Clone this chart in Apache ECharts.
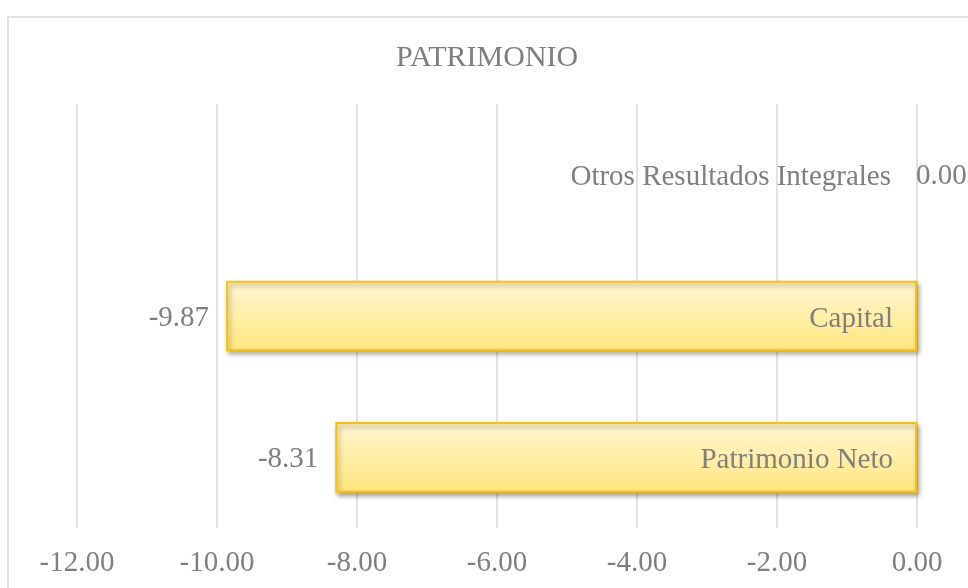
<!DOCTYPE html>
<html>
<head>
<meta charset="utf-8">
<script src="https://cdn.jsdelivr.net/npm/echarts@6/dist/echarts.min.js"></script>
<style>
  html, body { margin: 0; padding: 0; background: #fff; }
  #chart { width: 968px; height: 588px; }
</style>
</head>
<body>
<div id="chart"></div>
<script>
// categories from bottom to top
const categories = ['Patrimonio Neto', 'Capital', 'Otros Resultados Integrales'];
const values = [-8.31, -9.87, 0.00];
const axisMin = -12;
const axisMax = 0;
const axisStep = 2;

const font = 'Liberation Serif';
const grey = '#7f7f7f';

let chart = echarts.init(document.getElementById('chart'), null, {renderer: 'canvas'});

const barFill = new echarts.graphic.LinearGradient(0, 0, 0, 1, [
    {offset: 0, color: '#FFF7D2'},
    {offset: 1, color: '#FFE67D'}
]);

// value labels: outside end for negative bars, to the right for zero
const valueData = values.map(v => ({
    value: v,
    itemStyle: v < 0 ? {} : {borderWidth: 0, shadowBlur: 0, shadowOffsetX: 0, shadowOffsetY: 0},
    label: v < 0
        ? {position: 'left', distance: 17}
        : {position: 'right', distance: -1}
}));

// category name labels: inside base, or to the left if the bar is empty
const nameData = values.map((v, i) => ({
    value: v,
    label: v < 0
        ? {position: 'insideRight', distance: 24, formatter: categories[i]}
        : {position: 'left', distance: 26, formatter: categories[i]}
}));

let option = {
    animation: false,
    textStyle: {fontFamily: font},
    title: {
        text: 'PATRIMONIO',
        left: 396,
        top: 43,
        padding: 0,
        textStyle: {fontFamily: font, fontSize: 30, fontWeight: 'normal', color: grey}
    },
    graphic: [{
        type: 'rect',
        z: -10,
        shape: {x: 8, y: 17, width: 1000, height: 1000},
        style: {fill: 'none', stroke: '#d9d9d9', lineWidth: 1.5}
    }],
    grid: {left: 77, right: 51, top: 104, bottom: 60},
    xAxis: {
        type: 'value',
        min: axisMin,
        max: axisMax,
        interval: axisStep,
        axisLine: {show: false},
        axisTick: {show: false},
        splitLine: {lineStyle: {color: '#d9d9d9', width: 1.5}},
        axisLabel: {
            margin: 21,
            fontFamily: font,
            fontSize: 29,
            color: grey,
            formatter: v => v.toFixed(2)
        }
    },
    yAxis: {
        type: 'category',
        data: categories,
        axisLine: {show: false},
        axisTick: {show: false},
        axisLabel: {show: false},
        splitLine: {show: false}
    },
    series: [
        {
            type: 'bar',
            barWidth: '50%',
            data: valueData,
            itemStyle: {
                color: barFill,
                borderColor: '#FFC000',
                borderWidth: 2,
                shadowColor: 'rgba(0,0,0,0.35)',
                shadowBlur: 5,
                shadowOffsetX: 2,
                shadowOffsetY: 3
            },
            label: {
                show: true,
                fontFamily: font,
                fontSize: 29,
                color: grey,
                offset: [0, 2],
                formatter: p => p.value.toFixed(2)
            }
        },
        {
            type: 'bar',
            barWidth: '50%',
            barGap: '-100%',
            silent: true,
            data: nameData,
            itemStyle: {color: 'rgba(0,0,0,0)'},
            label: {
                show: true,
                fontFamily: font,
                fontSize: 29,
                color: grey,
                offset: [0, 3]
            }
        }
    ]
};

option && chart.setOption(option);
</script>
</body>
</html>
